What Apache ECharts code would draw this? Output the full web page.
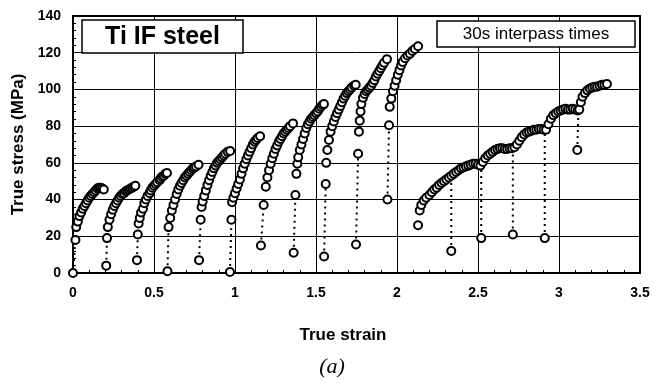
<!DOCTYPE html>
<html>
<head>
<meta charset="utf-8">
<script src="https://cdn.jsdelivr.net/npm/echarts@6/dist/echarts.min.js"></script>
<style>
html,body{margin:0;padding:0;background:#fff;}
#c{width:661px;height:383px;}
</style>
</head>
<body>
<div id="c"></div>
<script>
// Each pass: first point = unloaded (interpass) stress, then the loaded flow curve [true strain, true stress MPa]
const pass1 = [[0,0],[0.015,18],[0.02,25],[0.03,28],[0.04,31],[0.05,33],[0.06,35],[0.07,36.5],[0.08,38],[0.09,39.5],[0.10,41],[0.11,42],[0.12,43],[0.13,44],[0.14,45],[0.15,46],[0.16,46.5],[0.17,46.5],[0.18,46],[0.19,45.5]];
const pass2 = [[0.205,4],[0.21,19],[0.215,25],[0.225,29],[0.235,32],[0.245,34.5],[0.255,36.5],[0.265,38],[0.275,39.5],[0.285,41],[0.295,42],[0.305,43],[0.315,43.5],[0.325,44.5],[0.335,45],[0.345,45.5],[0.355,46],[0.365,46.5],[0.375,47],[0.385,47.5]];
const pass3 = [[0.395,7],[0.40,21],[0.405,27],[0.412,30],[0.42,33],[0.432,35],[0.44,38],[0.45,40],[0.46,42],[0.473,43.5],[0.48,45],[0.49,46.5],[0.50,47.5],[0.51,48.5],[0.52,49.5],[0.535,50.5],[0.54,51.5],[0.55,52.5],[0.56,53],[0.57,54],[0.58,54.5]];
const pass4 = [[0.583,1],[0.59,25],[0.60,30],[0.61,34],[0.62,37],[0.63,40],[0.64,43],[0.65,45.5],[0.66,47.5],[0.67,49],[0.68,50.5],[0.69,52],[0.70,53],[0.71,54],[0.72,55],[0.73,56],[0.74,57],[0.75,57.5],[0.76,58],[0.775,59]];
const pass5 = [[0.778,7],[0.788,29],[0.794,36],[0.80,39],[0.81,42],[0.82,45],[0.83,48],[0.84,50.5],[0.85,53],[0.86,55],[0.87,57],[0.88,58.5],[0.89,60],[0.90,61],[0.91,62],[0.92,63],[0.93,64],[0.94,65],[0.955,66],[0.97,66.5]];
const pass6 = [[0.969,0.5],[0.978,29],[0.982,38.5],[0.99,41],[1.0,43.5],[1.01,46],[1.02,48.5],[1.03,51],[1.04,54],[1.05,57],[1.06,59.5],[1.07,62],[1.08,64],[1.09,66],[1.10,68],[1.11,70],[1.12,71.5],[1.13,72.5],[1.14,73.5],[1.155,74.5]];
const pass7 = [[1.16,15],[1.177,37],[1.19,47],[1.20,52],[1.21,56],[1.22,59.5],[1.23,62.5],[1.24,65],[1.25,67.5],[1.26,69.5],[1.27,71.5],[1.28,73],[1.29,74.5],[1.30,76],[1.31,77],[1.32,78],[1.33,79],[1.34,80],[1.358,81.5]];
const pass8 = [[1.362,11],[1.373,42.5],[1.379,54],[1.385,59.5],[1.39,63],[1.40,67],[1.41,70],[1.42,73],[1.43,76],[1.44,79],[1.45,81],[1.46,82.5],[1.47,84],[1.48,85],[1.49,86],[1.50,87],[1.51,88],[1.52,89.5],[1.53,90.5],[1.54,91.5],[1.549,92]];
const pass9 = [[1.55,9],[1.56,48.5],[1.563,60],[1.57,67],[1.58,72.5],[1.59,77],[1.60,80],[1.61,82.5],[1.62,85],[1.63,87],[1.64,89],[1.65,91],[1.66,93],[1.67,95],[1.68,96.5],[1.69,98],[1.70,99],[1.71,100],[1.72,101],[1.735,102],[1.745,102.5]];
const pass10 = [[1.747,15.5],[1.76,65],[1.765,77],[1.77,83],[1.775,88],[1.78,92],[1.79,95.5],[1.80,97.5],[1.81,99],[1.82,100],[1.83,101],[1.84,102],[1.85,103.5],[1.86,105],[1.87,107],[1.88,108.5],[1.89,110],[1.90,111.5],[1.91,113],[1.92,114.5],[1.938,116.5]];
const pass11 = [[1.941,40],[1.951,80.5],[1.955,90.5],[1.965,95],[1.975,99],[1.985,102],[1.995,105],[2.005,108],[2.015,110.5],[2.025,113],[2.035,115],[2.05,117],[2.065,118.5],[2.08,119.5],[2.095,121],[2.11,122],[2.13,123.5]];
// Last pass sequence (continuous curve) with interpass drop points
const pass12 = [[2.13,26],[2.14,34],[2.15,37],[2.165,39.5],[2.18,41],[2.2,42.5],[2.215,44],[2.23,45.5],[2.245,46.5],[2.26,48],[2.275,49],[2.29,50],[2.305,51],[2.32,52],[2.335,53],[2.35,54],[2.365,55],[2.38,56],[2.395,57],[2.41,57.5],[2.425,58],[2.44,58.5],[2.455,59],[2.47,59.5],[2.485,59.5],[2.5,59],[2.515,58.5],[2.53,60.5],[2.545,62.5],[2.56,64],[2.575,65],[2.59,66],[2.605,67],[2.62,67.5],[2.635,68],[2.65,68],[2.665,67.5],[2.68,67.5],[2.695,68],[2.71,68],[2.725,68.5],[2.74,70],[2.755,72],[2.77,74],[2.785,75.5],[2.80,76.5],[2.815,77],[2.83,77.5],[2.845,78],[2.86,78],[2.875,78.5],[2.89,78.5],[2.905,78],[2.92,78],[2.935,81],[2.95,84],[2.965,86],[2.98,87],[2.995,88],[3.01,88.5],[3.025,89],[3.04,89.5],[3.055,89],[3.07,89],[3.085,89.5],[3.10,89],[3.115,88.5],[3.125,89],[3.135,93],[3.145,96],[3.16,98],[3.175,99.5],[3.19,100.5],[3.205,101],[3.22,101.5],[3.235,101.5],[3.25,102],[3.265,102.5],[3.28,102.5],[3.296,103]];
const drops12Low = [[2.335,12],[2.52,19],[2.715,21],[2.912,19],[3.113,67]];
const drops12High = [[2.335,53],[2.52,58.5],[2.715,68],[2.912,78],[3.12,89]];
const xTicks = [0,0.5,1,1.5,2,2.5,3,3.5];
const yTicks = [0,20,40,60,80,100,120,140];

const passes = [pass1,pass2,pass3,pass4,pass5,pass6,pass7,pass8,pass9,pass10,pass11];
const dotted = {color:'#000', width:2, type:[2,4], cap:'butt'};
const series = [];
passes.forEach(p => {
  series.push({type:'line', data:[p[0], p[1]], symbol:'none', lineStyle:dotted, z:1, silent:true});
});
drops12Low.forEach((lp,i) => {
  series.push({type:'line', data:[lp, drops12High[i]], symbol:'none', lineStyle:dotted, z:1, silent:true});
});
const allPts = [].concat(...passes, pass12, drops12Low);
series.push({
  type:'scatter', data:allPts, symbol:'circle', symbolSize:8, z:3,
  itemStyle:{color:'#fff', borderColor:'#000', borderWidth:2, opacity:1}
});

const chart = echarts.init(document.getElementById('c'), null, {renderer:'canvas'});
const lblFont = {color:'#000', fontFamily:'Liberation Sans, Arial, sans-serif', fontWeight:'bold', fontSize:14};
chart.setOption({
  animation:false,
  backgroundColor:'#fff',
  grid:{left:73, right:21, top:16, bottom:110, show:true, borderColor:'#000', borderWidth:2, backgroundColor:'transparent'},
  xAxis:{
    type:'value', min:xTicks[0], max:xTicks[xTicks.length-1], interval:0.5,
    axisLine:{show:true, lineStyle:{color:'#000', width:2}},
    axisTick:{show:false, inside:true},
    minorTick:{show:true, splitNumber:5, length:3, lineStyle:{color:'#000', width:1}},
    splitLine:{show:true, lineStyle:{color:'#000', width:1}},
    axisLabel:Object.assign({margin:13, formatter:v=>String(v)}, lblFont)
  },
  yAxis:{
    type:'value', min:yTicks[0], max:yTicks[yTicks.length-1], interval:20,
    name:'True stress (MPa)', nameLocation:'middle', nameGap:43,
    nameTextStyle:{color:'#000', fontFamily:'Liberation Sans, Arial, sans-serif', fontWeight:'bold', fontSize:17},
    axisLine:{show:true, lineStyle:{color:'#000', width:2}},
    axisTick:{show:false, inside:true},
    minorTick:{show:true, splitNumber:5, length:3, lineStyle:{color:'#000', width:1}},
    splitLine:{show:true, lineStyle:{color:'#000', width:1}},
    axisLabel:Object.assign({margin:12}, lblFont)
  },
  series:series,
  graphic:[
    {type:'rect', shape:{x:82, y:20, width:161, height:33}, style:{fill:'#fff', stroke:'#000', lineWidth:1.5}, z:10},
    {type:'text', x:162.5, y:37, style:{text:'Ti IF steel', font:'bold 25px "Liberation Sans", Arial, sans-serif', fill:'#000', align:'center', verticalAlign:'middle'}, z:11},
    {type:'rect', shape:{x:437, y:21, width:198, height:26}, style:{fill:'#fff', stroke:'#000', lineWidth:1.5}, z:10},
    {type:'text', x:536, y:34, style:{text:'30s interpass times', font:'17px "Liberation Sans", Arial, sans-serif', fill:'#000', align:'center', verticalAlign:'middle'}, z:11},
    {type:'text', x:343, y:335, style:{text:'True strain', font:'bold 17px "Liberation Sans", Arial, sans-serif', fill:'#000', align:'center', verticalAlign:'middle'}, z:11},
    {type:'text', x:332, y:367, style:{text:'(a)', font:'italic 22px "Liberation Serif", "Times New Roman", serif', fill:'#000', align:'center', verticalAlign:'middle'}, z:11}
  ]
});
</script>
</body>
</html>
